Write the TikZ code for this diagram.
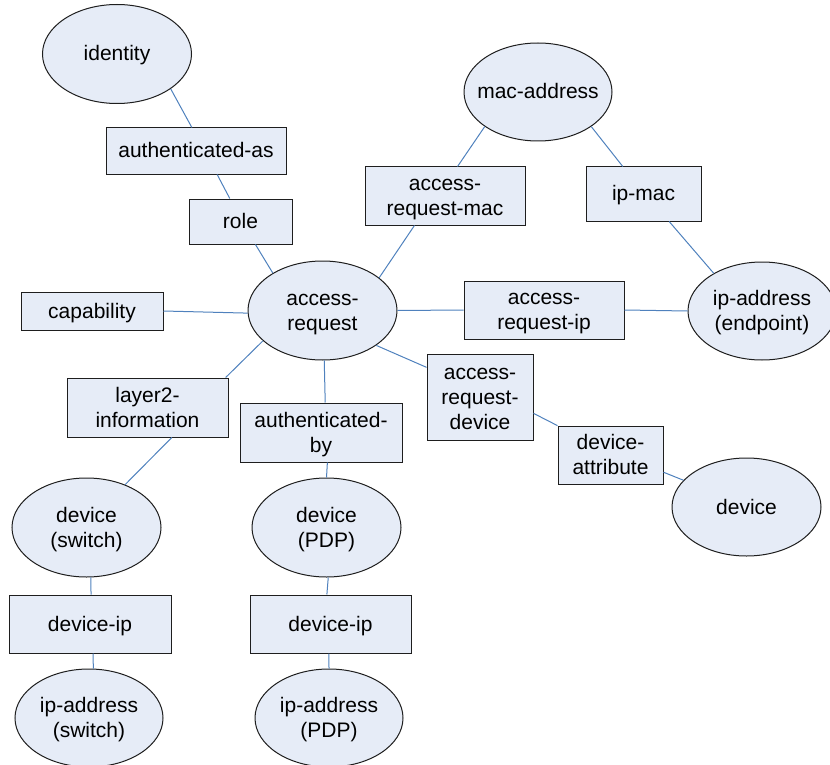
\documentclass[tikz,border=0pt]{standalone}
\usepackage{fontspec}
\setmainfont{Liberation Sans}
\usetikzlibrary{shapes.geometric}
\definecolor{nodefill}{RGB}{230,236,247}
\definecolor{linkblue}{RGB}{79,129,189}
\definecolor{edgegray}{RGB}{30,30,30}
\newcommand\tx[1]{\raisebox{-2pt}[\height][\depth]{\begin{tabular}{@{}c@{}}#1\end{tabular}}}
\newcommand\ztxt[1]{\makebox[0pt]{\tx{#1}}}
\tikzset{
  ell/.style={ellipse, draw=edgegray, fill=nodefill, line width=1pt, inner sep=0pt,
    minimum width=149pt, minimum height=99pt},
  box/.style={rectangle, draw=edgegray, fill=nodefill, line width=1pt, inner sep=0pt},
  conn/.style={draw=linkblue, line width=1pt},
}
\begin{document}
\begin{tikzpicture}[x=1pt, y=-1pt, font=\fontsize{21}{25}\selectfont]
\useasboundingbox (0,0) rectangle (830,765);
% ellipses
\node[ell] (identity) at (117,54) {\ztxt{identity}};
\node[ell] (AR) at (322.5,310.5) {\ztxt{access-\\request}};
\node[ell, minimum width=148pt, minimum height=98pt] (mac) at (538,92) {\ztxt{mac-address}};
\node[ell, minimum width=148pt, minimum height=98pt] (ipep) at (762,311) {\ztxt{ip-address\\(endpoint)}};
\node[ell, minimum height=98pt] (dev) at (746.5,507) {\ztxt{device}};
\node[ell] (sw) at (86.5,527.5) {\ztxt{device\\(switch)}};
\node[ell] (pdp) at (326.5,527.5) {\ztxt{device\\(PDP)}};
\node[ell, minimum width=148pt, minimum height=98pt] (ipsw) at (89,718) {\ztxt{ip-address\\(switch)}};
\node[ell, minimum width=148pt, minimum height=98pt] (ippdp) at (329,718) {\ztxt{ip-address\\(PDP)}};
% boxes
\node[box, minimum width=180pt, minimum height=46pt] (authas) at (196,151) {\tx{authenticated-as}};
\node[box, minimum width=103pt, minimum height=45pt] (role) at (240.5,221.5) {\tx{role}};
\node[box, minimum width=142pt, minimum height=38pt] (cap) at (92,311) {\tx{capability}};
\node[box, minimum width=161pt, minimum height=59pt] (l2) at (147.5,407.5) {\tx{layer2-\\information}};
\node[box, minimum width=162pt, minimum height=59pt] (authby) at (321,432.5) {\tx{authenticated-\\by}};
\node[box, minimum width=106pt, minimum height=86pt] (ard) at (480,397) {\tx{access-\\request-\\device}};
\node[box, minimum width=105pt, minimum height=58pt] (da) at (610.5,455) {\tx{device-\\attribute}};
\node[box, minimum width=160pt, minimum height=58pt] (arm) at (445,196) {\tx{access-\\request-mac}};
\node[box, minimum width=115pt, minimum height=54pt] (ipmac) at (643.5,194) {\tx{ip-mac}};
\node[box, minimum width=160pt, minimum height=58pt] (ari) at (544,310) {\tx{access-\\request-ip}};
\node[box, minimum width=162pt, minimum height=58pt] (dipL) at (90,624) {\tx{device-ip}};
\node[box, minimum width=161pt, minimum height=58pt] (dipR) at (330.5,624) {\tx{device-ip}};
% connectors
\draw[conn] (identity.-33) -- (authas.100);
\draw[conn] (authas.-48) -- (role.115);
\draw[conn] (role.-57) -- (AR.143);
\draw[conn] (cap.east) -- (AR.182);
\draw[conn] (AR.207.5) -- (l2.21);
\draw[conn] (l2.-51.5) -- (sw.48);
\draw[conn] (AR.-88) -- (authby.82);
\draw[conn] (authby.-78.5) -- (pdp.north);
\draw[conn] (sw.-85) -- (dipL.88);
\draw[conn] (dipL.-84) -- (ipsw.85);
\draw[conn] (pdp.-88) -- (dipR.97);
\draw[conn] (dipR.-93) -- (ippdp.north);
\draw[conn] (AR.30.4) -- (arm.224);
\draw[conn] (arm.67.5) -- (mac.213);
\draw[conn] (mac.-33.7) -- (ipmac.127);
\draw[conn] (ipmac.-47.8) -- (ipep.142.8);
\draw[conn] (AR.east) -- (ari.west);
\draw[conn] (ari.east) -- (ipep.west);
\draw[conn] (AR.-33.3) -- (ard.151);
\draw[conn] (ard.-17.8) -- (da.151);
\draw[conn] (da.-18) -- (dev.157);
\end{tikzpicture}
\end{document}
